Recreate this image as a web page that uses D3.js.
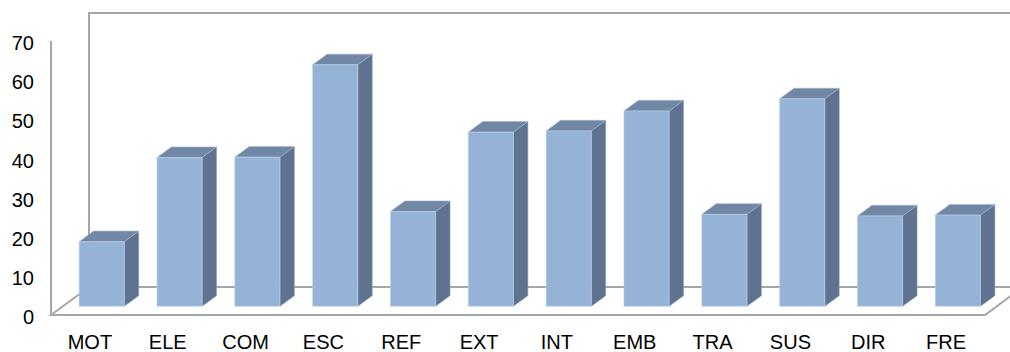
<!DOCTYPE html>
<html>
<head>
<meta charset="utf-8">
<script src="https://cdn.jsdelivr.net/npm/d3@7"></script>
<style>
    body { margin: 0; background: #fff; }
    svg text { font-family: "Liberation Sans", Arial, sans-serif; font-size: 20px; fill: #000; }
</style>
</head>
<body>
<svg width="1010" height="352"></svg>
<script>
'use strict';

let categories = ["MOT", "ELE", "COM", "ESC", "REF", "EXT", "INT", "EMB", "TRA", "SUS", "DIR", "FRE"];
let values = [16.5, 38.0, 38.1, 61.7, 24.2, 44.5, 44.8, 49.9, 23.5, 53.0, 23.1, 23.3];
let yTicks = [0, 10, 20, 30, 40, 50, 60, 70];

let svg = d3.select("svg");

// oblique depth of the floor (front edge -> back edge)
let depth = {dx: 38, dy: -28};
let barFront = 0.31, barDepth = 0.38, barWidth = 0.58;

let x = d3.scaleBand().domain(categories).range([51, 985]).padding(0);
let y = d3.scaleLinear().domain([0, 70]).range([315, 41]);

function shift(p, f) {
    return [p[0] + depth.dx * f, p[1] + depth.dy * f];
}

function poly(pts) {
    return "M" + pts.map(function (p) { return p.join(","); }).join("L") + "Z";
}

let grid = svg.append("g")
    .attr("fill", "none")
    .attr("stroke", "#a6a6a6")
    .attr("stroke-width", 2);

let x0 = x.range()[0], x1 = x.range()[1], yTop = y(70), yBase = y(0);

// back wall
grid.append("path").attr("d", poly([
    shift([x0, yBase], 1), shift([x0, yTop], 1), shift([x1, yTop], 1), shift([x1, yBase], 1)
]));
// floor
grid.append("path").attr("d", poly([
    [x0, yBase], shift([x0, yBase], 1), shift([x1, yBase], 1), [x1, yBase]
]));

// bars
let bars = svg.append("g").selectAll("g")
    .data(categories)
    .enter().append("g")
    .each(function (c, i) {
        let g = d3.select(this);
        let w = x.bandwidth() * barWidth;
        let left = x(c) + (x.bandwidth() - w) / 2;
        let bl = shift([left, yBase], barFront), br = shift([left + w, yBase], barFront);
        let tl = shift([left, y(values[i])], barFront), tr = shift([left + w, y(values[i])], barFront);
        let d = barDepth;

        g.append("path").attr("d", poly([br, tr, shift(tr, d), shift(br, d)]))
            .attr("fill", "#5f7290").attr("stroke", "#8ea2bd").attr("stroke-width", 0.6);
        g.append("path").attr("d", poly([tl, shift(tl, d), shift(tr, d), tr]))
            .attr("fill", "#7187a6").attr("stroke", "#a4b6cf").attr("stroke-width", 0.6);
        g.append("path").attr("d", poly([bl, tl, tr, br]))
            .attr("fill", "#95b3d7").attr("stroke", "#c3d4ea").attr("stroke-width", 0.6);
    });

// value axis line at front left
svg.append("line")
    .attr("x1", x0).attr("x2", x0)
    .attr("y1", yBase).attr("y2", yTop)
    .attr("stroke", "#a6a6a6").attr("stroke-width", 2);

svg.append("g").selectAll("text")
    .data(yTicks)
    .enter().append("text")
    .attr("x", 34)
    .attr("y", function (d) { return y(d) + 2; })
    .attr("dy", "0.36em")
    .attr("text-anchor", "end")
    .text(function (d) { return d; });

svg.append("g").selectAll("text")
    .data(categories)
    .enter().append("text")
    .attr("x", function (d) { return x(d) + x.bandwidth() / 2; })
    .attr("y", 349)
    .attr("text-anchor", "middle")
    .text(function (d) { return d; });
</script>
</body>
</html>
